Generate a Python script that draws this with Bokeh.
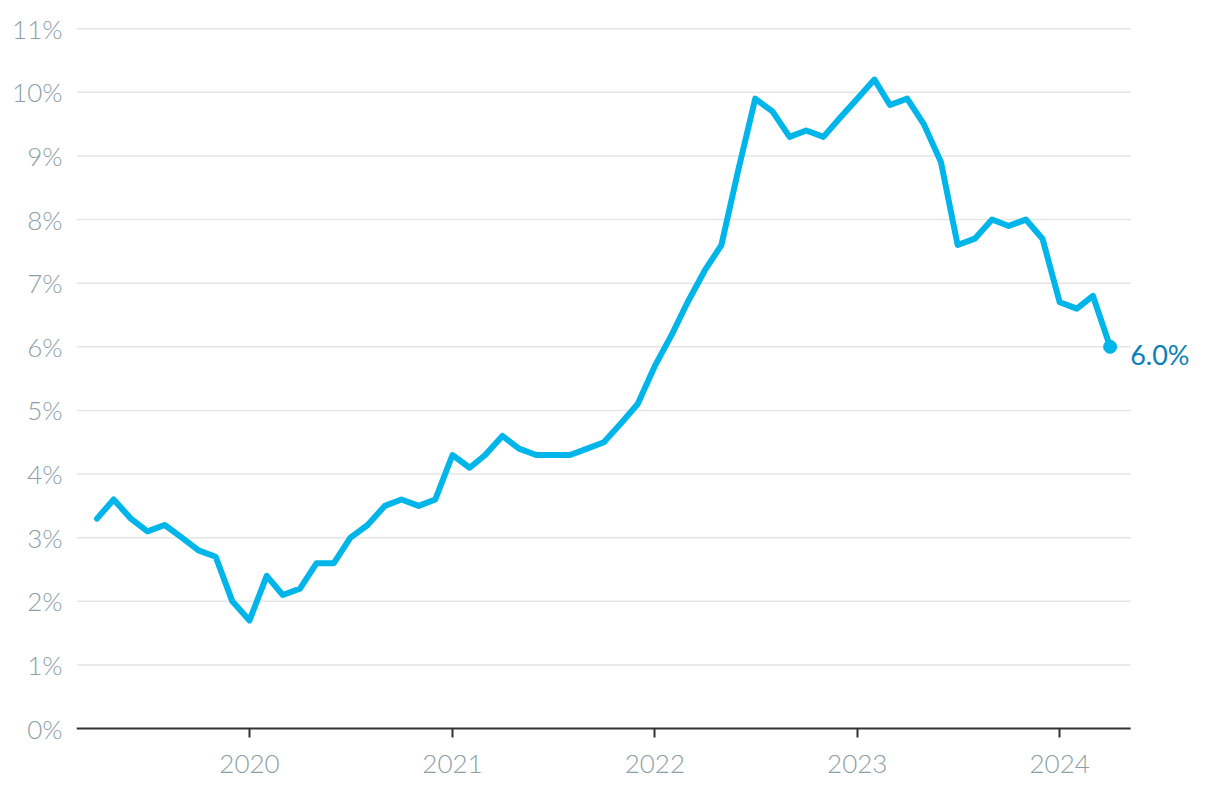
import pandas as pd
from bokeh.plotting import figure
from bokeh.models import Range1d, FixedTicker, DatetimeTickFormatter, PrintfTickFormatter, ColumnDataSource
from bokeh.core.properties import value
from bokeh.embed import file_html
from bokeh.resources import INLINE

# Data: monthly rate, Apr 2019 - Apr 2024
months = pd.date_range("2019-04-01", "2024-04-01", freq="MS")
rate = [3.3, 3.6, 3.3, 3.1, 3.2, 3.0, 2.8, 2.7, 2.0,
        1.7, 2.4, 2.1, 2.2, 2.6, 2.6, 3.0, 3.2, 3.5, 3.6, 3.5, 3.6,
        4.3, 4.1, 4.3, 4.6, 4.4, 4.3, 4.3, 4.3, 4.4, 4.5, 4.8, 5.1,
        5.7, 6.2, 6.7, 7.2, 7.6, 8.8, 9.9, 9.7, 9.3, 9.4, 9.3, 9.6,
        9.9, 10.2, 9.8, 9.9, 9.5, 8.9, 7.6, 7.7, 8.0, 7.9, 8.0, 7.7,
        6.7, 6.6, 6.8, 6.0]
year_ticks = ["2020-01-01", "2021-01-01", "2022-01-01", "2023-01-01", "2024-01-01"]
y_ticks = list(range(0, 12))
last_label = "6.0%"

FONT = "'Lato Light', Lato"
LINE = "#00b5e9"
LABEL = "#8d9ea6"

x_start = pd.Timestamp("2019-02-23")
x_plot_end = pd.Timestamp("2024-05-08")   # where grid and axis line end
x_canvas_end = pd.Timestamp("2024-09-29")  # room for the end label

p = figure(width=1220, height=794, output_backend="svg", toolbar_location=None,
           x_axis_type="datetime",
           x_range=Range1d(x_start, x_canvas_end),
           y_range=Range1d(-0.03, 11.05),
           min_border_left=76, min_border_right=10, min_border_top=25, min_border_bottom=64)
p.outline_line_color = None
p.background_fill_color = "white"
p.border_fill_color = "white"

# horizontal grid lines and base axis line, limited to the plot area
grid_y = [t for t in y_ticks if t > 0]
p.segment(x0=[x_start] * len(grid_y), x1=[x_plot_end] * len(grid_y), y0=grid_y, y1=grid_y,
          line_color="#e5e5e5", line_width=1.5)
p.segment(x0=[x_start], x1=[x_plot_end], y0=[0], y1=[0], line_color="#333333", line_width=2)

src = ColumnDataSource(dict(x=months, y=rate))
p.line("x", "y", source=src, line_color=LINE, line_width=6, line_join="round", line_cap="round")

last = ColumnDataSource(dict(x=[months[-1]], y=[rate[-1]], t=[last_label]))
p.scatter("x", "y", source=last, size=13, fill_color=LINE, line_color=LINE)
p.text("x", "y", text="t", source=last, x_offset=20, y_offset=8,
       text_font=value("Lato"), text_font_size="27px", text_color="#0a80b8",
       text_baseline="middle", text_align="left")

# Axes
xa = p.xaxis[0]
xa.ticker = FixedTicker(ticks=[pd.Timestamp(t).value / 1e6 for t in year_ticks])
xa.formatter = DatetimeTickFormatter(years="%Y", months="%Y", days="%Y", hours="%Y",
                                     minutes="%Y", seconds="%Y", milliseconds="%Y")
xa.axis_line_color = None
xa.major_tick_line_color = "#333333"
xa.major_tick_line_width = 2
xa.major_tick_out = 7
xa.major_tick_in = 2
xa.minor_tick_line_color = None
xa.major_label_text_font = FONT
xa.major_label_text_font_size = "26px"
xa.major_label_text_color = LABEL
xa.major_label_standoff = 17

ya = p.yaxis[0]
ya.ticker = FixedTicker(ticks=y_ticks)
ya.formatter = PrintfTickFormatter(format="%d%%")
ya.axis_line_color = None
ya.major_tick_line_color = None
ya.minor_tick_line_color = None
ya.major_label_text_font = FONT
ya.major_label_text_font_size = "26px"
ya.major_label_text_color = LABEL
ya.major_label_standoff = 8

p.xgrid.grid_line_color = None
p.ygrid.grid_line_color = None

open("out.html", "w").write(file_html(p, INLINE))
